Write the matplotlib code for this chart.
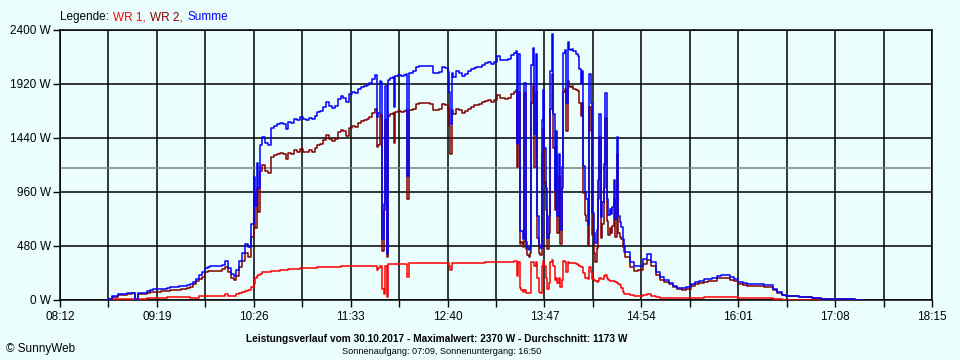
import matplotlib
matplotlib.use("Agg")
import matplotlib.pyplot as plt
import numpy as np

plt.rcParams['font.family'] = ['Liberation Sans', 'DejaVu Sans']

# ---------------- data ----------------
tick_labels = ["08:12", "09:19", "10:26", "11:33", "12:40", "13:47",
               "14:54", "16:01", "17:08", "18:15"]
power_ticks = [0, 480, 960, 1440, 1920, 2400]
average_w = 1173
max_w = 2370
date_str = "30.10.2017"
sunrise = "07:09"
sunset = "16:50"
series_names = ["WR 1", "WR 2", "Summe"]

# morning (minutes since midnight)
t_a = [524, 526, 528, 530, 532, 534, 536, 538, 540, 542,
       544, 546, 548, 550, 552, 554, 556, 558, 560, 562,
       564, 566, 568, 570, 572, 574, 576, 578, 580, 582,
       584, 586, 588, 590, 592, 594, 596, 598, 600, 602,
       604, 606, 608, 610, 612, 614, 616, 618]
wr2_a = [0, 10, 30, 30, 44, 44, 44, 50, 50, 58,
         5, 53, 53, 55, 60, 70, 74, 74, 74, 76,
         78, 80, 89, 89, 89, 92, 96, 98, 105, 118,
         140, 165, 190, 207, 245, 255, 261, 261, 261, 262,
         275, 296, 250, 200, 178, 215, 290, 345]
wr1_a = [0, 0, 8, 8, 8, 8, 8, 8, 8, 8,
         0, 10, 10, 10, 20, 20, 20, 20, 20, 20,
         20, 30, 30, 30, 30, 30, 30, 30, 30, 22,
         22, 22, 35, 40, 40, 40, 40, 40, 40, 40,
         40, 50, 32, 32, 32, 55, 60, 70]

# late morning rise
t_b = [620, 622, 624, 626, 627, 628, 629, 630, 632, 634,
       636, 638, 640, 642, 644, 646, 648, 650, 652, 654,
       656, 658, 660, 662, 664, 666, 668, 670, 672, 674,
       676, 678, 680, 682, 684, 686, 688, 690, 692, 694,
       696, 698, 700, 702, 704, 706, 708, 710]
wr2_b = [420, 380, 560, 950, 640, 1000, 780, 1150, 1200, 1150,
         1130, 1270, 1290, 1300, 1310, 1300, 1250, 1310, 1300, 1330,
         1320, 1345, 1320, 1315, 1330, 1320, 1350, 1380, 1390, 1420,
         1465, 1430, 1415, 1430, 1490, 1515, 1500, 1460, 1530, 1545,
         1540, 1570, 1595, 1600, 1610, 1625, 1660, 1700]
wr1_b = [80, 89, 120, 140, 200, 215, 220, 230, 245, 250,
         252, 255, 258, 262, 265, 268, 270, 272, 274, 276,
         278, 282, 285, 287, 287, 288, 288, 290, 290, 292,
         292, 293, 293, 295, 297, 300, 300, 300, 302, 302,
         302, 302, 302, 303, 303, 303, 303, 303]

# around noon
t_c = [711, 712, 713, 714, 715, 716, 717, 718, 719, 720,
       722, 723, 724, 726, 728, 730, 731, 732, 733, 734,
       736, 738, 740, 742, 744, 746, 748, 750, 752, 754,
       756, 758, 760]
wr2_c = [1360, 1380, 1650, 1640, 440, 800, 1600, 380, 1640, 1650,
         1660, 1400, 1670, 1680, 1670, 1680, 1690, 900, 1690, 1690,
         1700, 1740, 1750, 1750, 1750, 1748, 1745, 1690, 1690, 1700,
         1740, 1735, 1700]
wr1_c = [270, 285, 300, 300, 100, 50, 300, 30, 320, 320,
         320, 320, 320, 320, 320, 320, 320, 205, 330, 332,
         332, 332, 332, 332, 332, 332, 332, 330, 330, 330,
         330, 330, 330]

# early afternoon
t_d = [761, 762, 763, 764, 766, 768, 770, 772, 774, 776,
       778, 780, 782, 784, 786, 788, 790, 792, 794, 796,
       798, 800, 802, 804, 806, 807]
wr2_d = [1550, 1300, 1690, 1650, 1700, 1690, 1660, 1680, 1700, 1720,
         1730, 1735, 1740, 1760, 1770, 1780, 1760, 1780, 1825, 1795,
         1795, 1790, 1800, 1835, 1850, 1870]
wr1_d = [300, 267, 330, 330, 332, 332, 332, 332, 332, 332,
         332, 332, 332, 332, 335, 335, 335, 338, 340, 340,
         340, 340, 340, 340, 345, 345]

# clouds 13:28 - 14:42 (one value per minute)
t_e = list(range(808, 883))
wr2_e = [1180, 1850, 500, 520, 470, 1840, 450, 400, 385, 420,
         1750, 1900, 1180, 1850, 550, 420, 400, 1300, 1520, 1050,
         800, 450, 600, 1700, 2010, 1350, 800, 1300, 600, 1100,
         500, 1000, 1850, 1880, 1500, 1950, 1900, 1890, 1900, 1880,
         1880, 1870, 1860, 1750, 1640, 1750, 950, 760, 700, 480,
         1720, 1500, 580, 420, 340, 460, 900, 1450, 550, 680,
         1000, 1620, 700, 580, 640, 600, 660, 900, 560, 1300,
         600, 560, 540, 470, 430]
wr1_e = [210, 340, 110, 90, 70, 90, 62, 62, 60, 60,
         340, 340, 300, 340, 200, 70, 62, 300, 350, 300,
         200, 100, 150, 340, 355, 300, 180, 200, 150, 200,
         120, 180, 345, 340, 250, 340, 330, 330, 330, 330,
         330, 320, 310, 300, 290, 290, 240, 200, 195, 190,
         290, 250, 190, 180, 165, 163, 170, 200, 190, 190,
         210, 222, 200, 175, 170, 165, 165, 170, 160, 150,
         145, 130, 110, 70, 50]

# late afternoon
t_f = [883, 886, 889, 892, 895, 898, 901, 904, 907, 910,
       913, 916, 919, 922, 925, 928, 931, 934, 937, 940,
       943, 946, 949, 952, 955, 958, 961, 964, 967, 970,
       973, 976, 979, 982, 985, 988, 991, 994, 997, 1000,
       1003, 1006, 1009, 1012, 1015, 1018, 1021, 1024, 1027, 1030,
       1033, 1036, 1039, 1042, 1045, 1047]
wr2_f = [380, 295, 262, 265, 320, 355, 300, 220, 182, 160,
         138, 112, 95, 92, 100, 128, 140, 150, 163, 166,
         170, 192, 195, 195, 178, 165, 140, 130, 125, 125,
         124, 124, 120, 115, 85, 62, 44, 38, 34, 32,
         30, 28, 25, 20, 16, 12, 9, 8, 6, 5,
         12, 5, 5, 4, 3, 0]
wr1_f = [50, 45, 40, 35, 45, 55, 35, 28, 22, 18,
         15, 15, 15, 15, 15, 18, 20, 22, 24, 24,
         24, 24, 24, 24, 24, 24, 20, 18, 15, 15,
         15, 15, 15, 15, 12, 6, 2, 0, 0, 0,
         0, 0, 0, 0, 0, 0, 0, 0, 0, 0,
         0, 0, 0, 0, 0, 0]

minutes = np.array(t_a + t_b + t_c + t_d + t_e + t_f, dtype=float)
wr1 = np.array(wr1_a + wr1_b + wr1_c + wr1_d + wr1_e + wr1_f, dtype=float)
wr2 = np.array(wr2_a + wr2_b + wr2_c + wr2_d + wr2_e + wr2_f, dtype=float)
assert len(minutes) == len(wr1) == len(wr2), (len(minutes), len(wr1), len(wr2))
summe = wr1 + wr2

# ---------------- drawing ----------------
bg = '#EBFFFF'
c_wr1 = '#FF0000'
c_wr2 = '#800000'
c_sum = '#0000FF'
W, H = 960, 360
FS = 8.5


def to_min(s):
    h, m = s.split(":")
    return int(h) * 60 + int(m)


x0 = to_min(tick_labels[0])
x1 = to_min(tick_labels[-1])

fig = plt.figure(figsize=(W / 100, H / 100), dpi=100, facecolor=bg)
ax = fig.add_axes([60 / W, 60 / H, 872 / W, 270 / H])
ax.set_facecolor(bg)
ax.set_xlim(x0, x1)
ax.set_ylim(power_ticks[0], power_ticks[-1])

grid_x = np.linspace(x0, x1, 2 * len(tick_labels) - 1)
ax.set_xticks(grid_x)
ax.set_xticklabels([tick_labels[i // 2] if i % 2 == 0 else "" for i in range(len(grid_x))])
ax.set_yticks(power_ticks)
ax.set_yticklabels([f"{v} W" for v in power_ticks])
ax.tick_params(axis='x', direction='out', length=5, width=1, colors='black',
               labelsize=FS, pad=3)
ax.tick_params(axis='y', direction='out', length=5, width=1, colors='black',
               labelsize=FS, pad=1.5)

for gx in grid_x:
    ax.axvline(gx, color='black', lw=1.1, zorder=1)
for gy in power_ticks:
    ax.axhline(gy, color='black', lw=1.1, zorder=1)
ax.axhline(average_w, color='#808080', lw=1.1, zorder=1.5)
for sp in ax.spines.values():
    sp.set_color('black')
    sp.set_linewidth(1.1)

ax.plot(minutes, wr1, color=c_wr1, lw=1.1, drawstyle='steps-post', zorder=3)
ax.plot(minutes, wr2, color=c_wr2, lw=1.1, drawstyle='steps-post', zorder=3)
ax.plot(minutes, summe, color=c_sum, lw=1.1, drawstyle='steps-post', zorder=4)


def ftext(px, py, s, **kw):
    kw.setdefault('fontsize', FS)
    return fig.text(px / W, 1 - py / H, s, va='center', **kw)


# legend drawn piece by piece
renderer = fig.canvas.get_renderer()
pieces = [("Legende: ", 'black'), (series_names[0] + ", ", c_wr1),
          (series_names[1] + ", ", c_wr2), (series_names[2], c_sum)]
xp = 60
for s, col in pieces:
    t = ftext(xp, 17, s, color=col)
    bb = t.get_window_extent(renderer=renderer)
    xp += bb.width + 1

ftext(437, 339, f"Leistungsverlauf vom {date_str} - Maximalwert: {max_w} W - "
                f"Durchschnitt: {average_w} W", ha='center', fontweight='bold',
      fontsize=7.3)
ftext(442, 351, f"Sonnenaufgang: {sunrise}, Sonnenuntergang: {sunset}", ha='center',
      fontsize=6.6)
ftext(6, 349, "\u00a9 SunnyWeb", ha='left')

fig.savefig("out.png", dpi=100, facecolor=bg)
